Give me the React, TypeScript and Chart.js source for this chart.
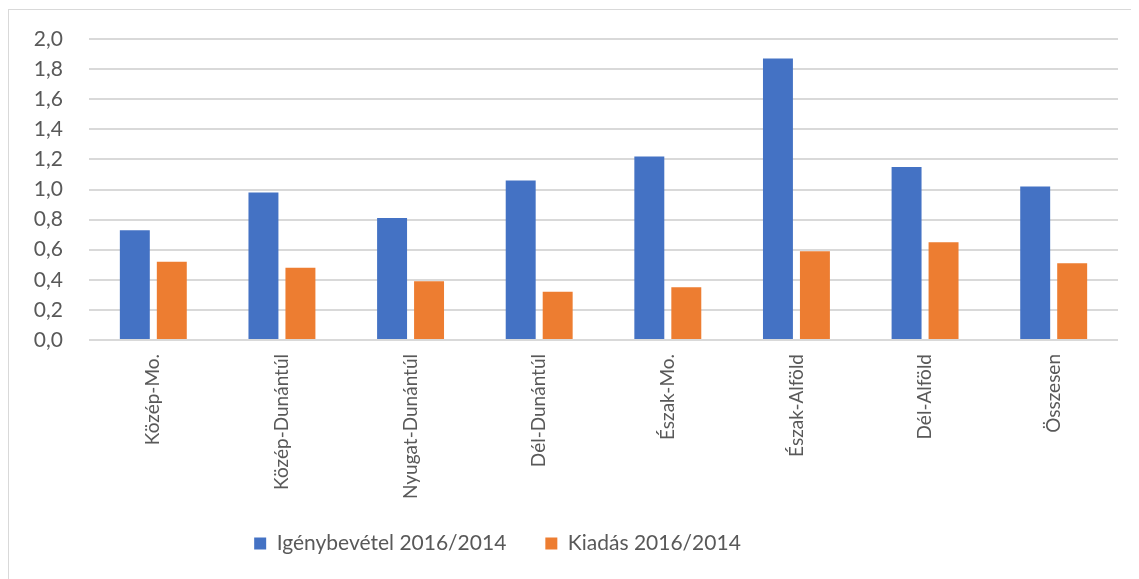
import React, { useEffect, useRef } from "react";
import { Chart, registerables } from "chart.js";

Chart.register(...registerables);

const categories = [
  "Közép-Mo.",
  "Közép-Dunántúl",
  "Nyugat-Dunántúl",
  "Dél-Dunántúl",
  "Észak-Mo.",
  "Észak-Alföld",
  "Dél-Alföld",
  "Összesen",
];
const igenybevetel = [0.73, 0.98, 0.81, 1.06, 1.22, 1.87, 1.15, 1.02];
const kiadas = [0.52, 0.48, 0.39, 0.32, 0.35, 0.59, 0.65, 0.51];
const seriesNames = ["Igénybevétel 2016/2014", "Kiadás 2016/2014"];

const FONT = "Lato, 'Open Sans', sans-serif";
const TEXT = "#595959";

const legendShift = {
  id: "legendShift",
  afterLayout(chart: any) {
    const l = chart.legend;
    if (l) {
      l.left -= 66;
      l.right -= 66;
      l.top -= 15;
      l.bottom -= 15;
    }
  },
};

export default function App() {
  const ref = useRef<HTMLCanvasElement | null>(null);
  useEffect(() => {
    if (!ref.current) return;
    const chart = new Chart(ref.current, {
      type: "bar",
      data: {
        labels: categories,
        datasets: [
          {
            label: seriesNames[0],
            data: igenybevetel,
            backgroundColor: "#4472C4",
            barPercentage: 0.81,
            categoryPercentage: 0.575,
          },
          {
            label: seriesNames[1],
            data: kiadas,
            backgroundColor: "#ED7D31",
            barPercentage: 0.81,
            categoryPercentage: 0.575,
          },
        ],
      },
      plugins: [legendShift],
      options: {
        responsive: false,
        animation: false,
        layout: { padding: { left: 0, right: 21, top: 30, bottom: 0 } },
        plugins: {
          title: { display: false },
          tooltip: { enabled: false },
          legend: {
            position: "bottom",
            labels: {
              boxWidth: 12,
              boxHeight: 12,
              padding: 39,
              color: TEXT,
              font: { family: FONT, size: 21 },
            },
          },
        },
        scales: {
          x: {
            grid: { display: false, drawTicks: false },
            border: { display: false },
            ticks: {
              autoSkip: false,
              maxRotation: 90,
              minRotation: 90,
              padding: 14,
              color: TEXT,
              font: { family: FONT, size: 19 },
            },
            afterFit(scale: any) {
              scale.height = 169;
            },
          },
          y: {
            min: 0,
            max: 2,
            grid: {
              color: "#D9D9D9",
              lineWidth: 2,
              drawTicks: true,
              tickLength: 26,
              tickColor: "rgba(0,0,0,0)",
            },
            border: { display: false },
            ticks: {
              stepSize: 0.2,
              padding: 0,
              color: TEXT,
              font: { family: FONT, size: 21 },
              callback: (v: any) => Number(v).toFixed(1).replace(".", ","),
            },
            afterFit(scale: any) {
              scale.width = 80;
            },
          },
        },
      },
    });
    return () => chart.destroy();
  }, []);

  return (
    <div style={{ position: "relative", width: 1131, height: 571, overflow: "hidden" }}>
      <div
        style={{
          position: "absolute",
          left: 0,
          top: 1,
          width: 1300,
          height: 800,
          borderLeft: "1px solid #D9D9D9",
          borderTop: "1px solid #D9D9D9",
        }}
      />
      <canvas
        ref={ref}
        width={1130}
        height={570}
        style={{ position: "absolute", left: 1, top: 1, width: 1130, height: 570 }}
      />
    </div>
  );
}
